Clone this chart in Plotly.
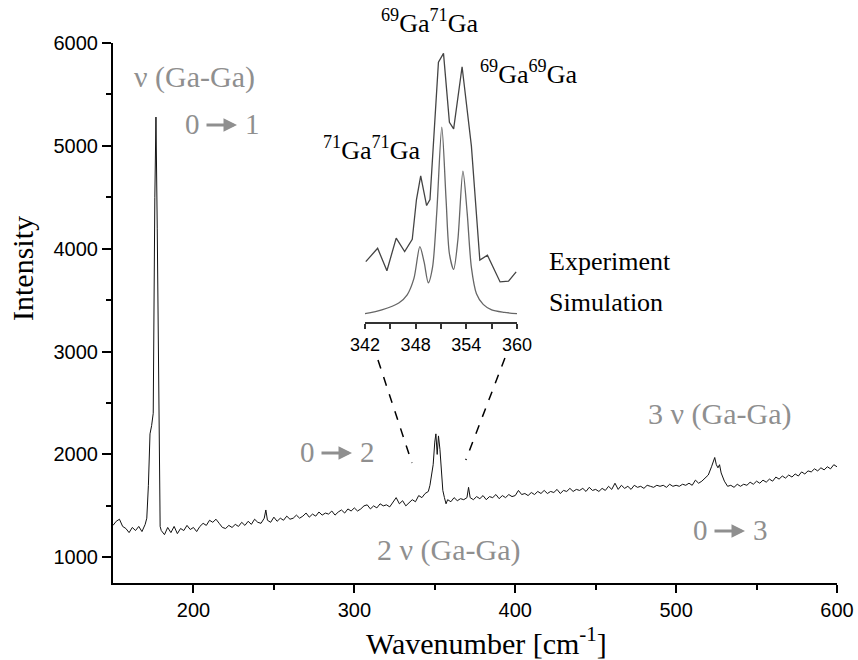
import plotly.graph_objects as go

# ---------------- data ----------------
wavenumber = [150, 152, 154, 156, 158, 160, 162, 164, 166, 168, 170, 171, 172, 173, 174, 175, 176, 176.7, 177.5, 178.5, 179.3,
              180, 182, 184, 186, 188, 190, 192, 194, 196, 198, 200, 202, 204, 206, 208, 210, 212, 214, 216, 218, 220,
              222, 224, 226, 228, 230, 232, 234, 236, 238, 240, 242, 244, 245, 246, 248, 250, 252, 254, 256, 258, 260,
              262, 264, 266, 268, 270, 272, 274, 276, 278, 280, 282, 284, 286, 288, 290, 292, 294, 296, 298, 300,
              302, 304, 306, 308, 310, 312, 314, 316, 318, 320, 322, 324, 326, 328, 330, 332, 334, 336, 338, 340,
              342, 344, 346, 347, 348, 349, 350, 350.7, 351.5, 352.3, 353.2, 354, 355, 356, 357, 358, 360,
              362, 364, 366, 368, 370, 371, 372, 374, 376, 378, 380, 382, 384, 386, 388, 390, 392, 394, 396, 398, 400,
              402, 404, 406, 408, 410, 412, 414, 416, 418, 420, 422, 424, 426, 428, 430, 432, 434, 436, 438, 440,
              442, 444, 446, 448, 450, 452, 454, 456, 458, 460, 462, 464, 466, 468, 470, 472, 474, 476, 478, 480,
              482, 484, 486, 488, 490, 492, 494, 496, 498, 500, 502, 504, 506, 508, 510, 512, 514, 516, 518, 520,
              522, 524, 525, 526, 527, 528, 530, 532, 534, 536, 538, 540, 542, 544, 546, 548, 550, 552, 554, 556, 558, 560,
              562, 564, 566, 568, 570, 572, 574, 576, 578, 580, 582, 584, 586, 588, 590, 592, 594, 596, 598, 600]
intensity = [1310, 1350, 1370, 1300, 1280, 1240, 1290, 1260, 1300, 1250, 1320, 1380, 1700, 2200, 2280, 2400, 4500, 5280, 4200, 2200, 1300,
             1260, 1220, 1290, 1240, 1300, 1230, 1280, 1260, 1310, 1270, 1290, 1250, 1300, 1330, 1310, 1360, 1340, 1370, 1330, 1290, 1280,
             1310, 1290, 1320, 1300, 1340, 1310, 1350, 1320, 1370, 1340, 1330, 1380, 1460, 1360, 1340, 1390, 1350, 1380, 1360, 1400, 1370,
             1380, 1410, 1380, 1400, 1430, 1390, 1420, 1400, 1440, 1410, 1430, 1420, 1450, 1410, 1440, 1460, 1430, 1470, 1450, 1480,
             1450, 1470, 1500, 1510, 1470, 1500, 1480, 1520, 1500, 1510, 1490, 1540, 1580, 1520, 1550, 1500, 1530, 1560, 1540, 1600,
             1580, 1620, 1640, 1700, 1800, 1900, 2120, 2200, 2000, 2180, 2050, 1850, 1650, 1580, 1520, 1560, 1540,
             1580, 1550, 1570, 1560, 1580, 1680, 1580, 1560, 1590, 1570, 1600, 1560, 1590, 1580, 1610, 1570, 1600, 1580, 1610, 1590, 1600,
             1650, 1610, 1620, 1600, 1630, 1610, 1640, 1620, 1650, 1620, 1640, 1630, 1660, 1620, 1650, 1640, 1670, 1640, 1660, 1650,
             1670, 1640, 1680, 1650, 1660, 1640, 1670, 1650, 1690, 1660, 1720, 1660, 1700, 1670, 1690, 1660, 1700, 1680, 1690, 1670,
             1700, 1690, 1680, 1700, 1690, 1700, 1680, 1710, 1690, 1700, 1690, 1710, 1700, 1720, 1700, 1750, 1720, 1740, 1770, 1800,
             1880, 1970, 1900, 1870, 1900, 1820, 1740, 1690, 1700, 1680, 1710, 1690, 1710, 1700, 1730, 1710, 1740, 1720, 1750, 1730, 1760, 1740,
             1780, 1760, 1790, 1770, 1800, 1780, 1810, 1790, 1830, 1810, 1840, 1830, 1860, 1840, 1870, 1850, 1880, 1860, 1900, 1880]

inset_exp_x = [342.1, 343.5, 344.6, 345.7, 346.7, 347.6, 348.1, 348.6, 349.3, 349.7, 350.7, 351.3, 352.0, 352.5,
               353.5, 354.6, 355.6, 356.5, 358.0, 359.0, 359.9]
inset_exp_y = [22.1, 27.0, 18.8, 30.7, 25.8, 30.3, 44.8, 53.4, 42.6, 44.8, 95.0, 98.2, 73.0, 70.6,
               93.3, 64.4, 22.7, 24.5, 14.7, 15.0, 18.4]

inset_sim_x = [342, 344, 346, 347, 347.8, 348.5, 349, 349.5, 350, 350.5, 351.1, 351.6, 352, 352.5,
               353, 353.6, 354.1, 354.6, 355.2, 356, 357, 358.5, 360]
inset_sim_y = [3.1, 4.5, 7, 10, 16, 27.6, 22, 14.4, 20, 40, 71.2, 45, 25, 19.3,
               30, 55.2, 40, 20, 10.4, 6.5, 4.5, 3.6, 3.1]

x_ticks = [200, 300, 400, 500, 600]
y_ticks = [1000, 2000, 3000, 4000, 5000, 6000]
inset_ticks = [342, 348, 354, 360]

# ---------------- figure ----------------
SERIF = "Liberation Serif, Times New Roman, serif"
SANS = "Liberation Sans, Arial, sans-serif"
GRAY = "#8f8f8f"

fig = go.Figure()
fig.add_trace(go.Scatter(x=wavenumber, y=intensity, mode="lines",
                         line=dict(color="#111111", width=1), xaxis="x", yaxis="y",
                         showlegend=False, hoverinfo="skip"))
fig.add_trace(go.Scatter(x=inset_exp_x, y=inset_exp_y, mode="lines",
                         line=dict(color="#444444", width=1.3), xaxis="x2", yaxis="y2",
                         showlegend=False, hoverinfo="skip"))
fig.add_trace(go.Scatter(x=inset_sim_x, y=inset_sim_y, mode="lines",
                         line=dict(color="#666666", width=1.3, shape="spline", smoothing=0.8),
                         xaxis="x2", yaxis="y2", showlegend=False, hoverinfo="skip"))

fig.update_layout(
    width=858, height=660,
    margin=dict(l=113, r=21, t=43, b=77),
    paper_bgcolor="white", plot_bgcolor="white",
    xaxis=dict(range=[150, 600], domain=[0, 1], tickvals=x_ticks, ticks="outside", ticklen=8, tickwidth=1.5,
               tickcolor="black", showline=True, linecolor="black", linewidth=2, showgrid=False, zeroline=False,
               automargin=False, tickfont=dict(family=SANS, size=20, color="black"),
               minor=dict(tickvals=[250, 350, 450, 550], ticks="outside", ticklen=5, tickcolor="black", tickwidth=1.5)),
    yaxis=dict(range=[750, 6000], domain=[0, 1], tickvals=y_ticks, ticks="outside", ticklen=9, tickwidth=1.5,
               tickcolor="black", showline=True, linecolor="black", linewidth=2, showgrid=False, zeroline=False,
               automargin=False, tickfont=dict(family=SANS, size=20, color="black"),
               minor=dict(tickvals=[1500, 2500, 3500, 4500, 5500], ticks="outside", ticklen=5, tickcolor="black", tickwidth=1.5)),
    xaxis2=dict(range=[342, 360], domain=[0.348, 0.558], anchor="y2", tickvals=inset_ticks, ticks="outside",
                ticklen=5, tickwidth=1.5, tickcolor="#333333", showline=True, linecolor="#333333", linewidth=1.5,
                showgrid=False, zeroline=False, automargin=False, tickfont=dict(family=SANS, size=18, color="black"),
                minor=dict(tickvals=[345, 351, 357], ticks="outside", ticklen=5, tickcolor="#333333", tickwidth=1.5)),
    yaxis2=dict(range=[0, 100], domain=[0.483, 0.99], anchor="x2", visible=False, showgrid=False, zeroline=False),
)

# dashed connector lines (in main-axis data coordinates)
fig.add_shape(type="line", xref="x", yref="y", x0=314.7, y0=2918, x1=335.8, y1=1917,
              line=dict(color="black", width=1.5, dash="dash"))
fig.add_shape(type="line", xref="x", yref="y", x0=393.6, y0=2937, x1=369.3, y1=1946,
              line=dict(color="black", width=1.5, dash="dash"))

def px(xp, yp):
    return (xp - 113) / 724.0, (583 - yp) / 540.0

def label(text, xp, yp, size, color, xanchor="center", angle=0):
    x, y = px(xp, yp)
    fig.add_annotation(text=text, x=x, y=y, xref="paper", yref="paper", showarrow=False,
                       xanchor=xanchor, yanchor="middle", textangle=angle,
                       font=dict(family=SERIF, size=size, color=color))

def transition(n, left, yp):
    # "0 ──► n" with a drawn arrow between the two numbers
    label("0", left + 7, yp, 29, GRAY)
    label(str(n), left + 67, yp, 29, GRAY)
    x1, y1 = px(left + 52, yp + 1)
    fig.add_annotation(x=x1, y=y1, xref="paper", yref="paper", ax=-32, ay=0,
                       text="", showarrow=True, arrowhead=2, arrowsize=0.9, arrowwidth=3, arrowcolor=GRAY)

# axis titles
label("Intensity", 22, 268, 30, "black", angle=-90)
label("Wavenumber [cm<sup>-1</sup>]", 487, 641, 30, "black")

label("ν (Ga-Ga)", 194, 77, 30, GRAY)
transition(1, 185, 124)
transition(2, 300, 452)
label("2 ν (Ga-Ga)", 449, 550, 30, GRAY)
label("3 ν (Ga-Ga)", 720, 414, 30, GRAY)
transition(3, 693, 530)
label("<sup>69</sup>Ga<sup>71</sup>Ga", 429, 22, 26, "black")
label("<sup>69</sup>Ga<sup>69</sup>Ga", 528, 72, 26, "black")
label("<sup>71</sup>Ga<sup>71</sup>Ga", 371, 148, 26, "black")
label("Experiment", 547, 261, 26, "black", xanchor="left")
label("Simulation", 547, 302, 26, "black", xanchor="left")

fig.write_html("out.html", config={"displayModeBar": False},
               post_script="document.body.style.margin='0';")
